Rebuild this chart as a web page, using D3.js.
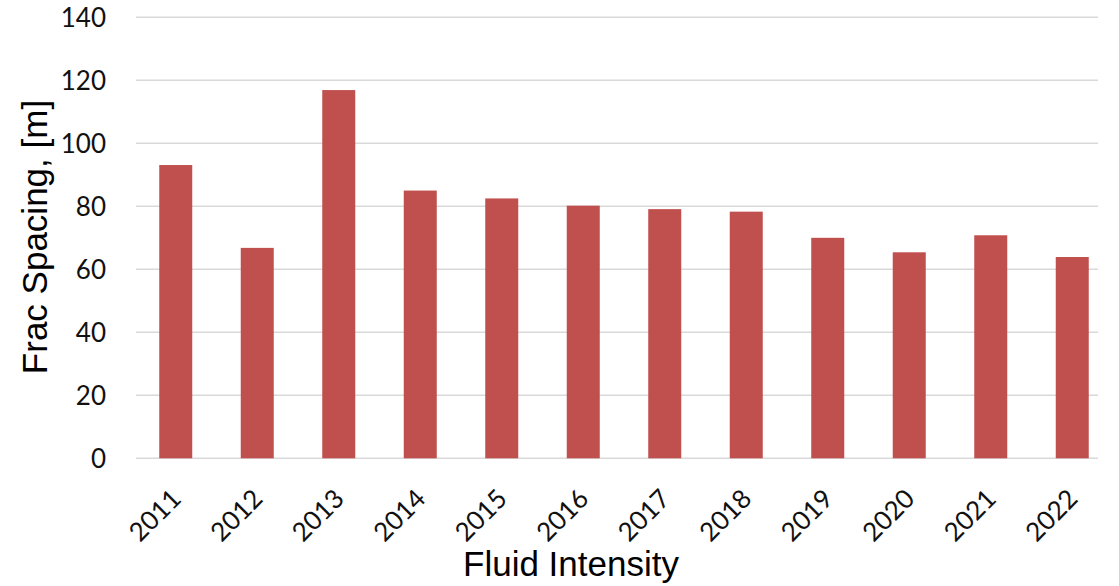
<!DOCTYPE html>
<html>
<head>
<meta charset="utf-8">
<script src="https://cdn.jsdelivr.net/npm/d3@7"></script>
<style>
  html, body { margin: 0; padding: 0; background: #ffffff; }
  svg { display: block; }
</style>
</head>
<body>
<svg id="chart" width="1119" height="586"></svg>
<script>
// Frac spacing by year
const years = ["2011", "2012", "2013", "2014", "2015", "2016", "2017", "2018", "2019", "2020", "2021", "2022"];
const fracSpacing = [93.1, 66.8, 116.9, 85.0, 82.5, 80.2, 79.1, 78.3, 70.0, 65.4, 70.8, 63.9];
const yTicks = [0, 20, 40, 60, 80, 100, 120, 140];

const svg = d3.select("#chart");

const plotLeft = 136, plotRight = 1098;
const x = d3.scaleBand()
  .domain(years)
  .range([135, 1113])
  .paddingInner(0.595)
  .paddingOuter(0.2975);

const y = d3.scaleLinear()
  .domain([0, 140])
  .range([458.3, 17.3]);

// horizontal gridlines
svg.append("g")
  .selectAll("line")
  .data(yTicks)
  .join("line")
  .attr("x1", plotLeft)
  .attr("x2", plotRight)
  .attr("y1", d => y(d))
  .attr("y2", d => y(d))
  .attr("stroke", "#d9d9d9")
  .attr("stroke-width", 1.5);

// y-axis tick labels
const yAxis = d3.axisLeft(y).tickValues(yTicks).tickSize(0).tickPadding(0);
svg.append("g")
  .attr("transform", "translate(106,0)")
  .call(yAxis)
  .call(g => g.select(".domain").remove())
  .selectAll("text")
  .attr("font-family", "Lato, 'Open Sans', sans-serif")
  .attr("font-size", 26)
  .attr("fill", "#111")
  .attr("dy", "0.35em");

// bars
svg.append("g")
  .selectAll("rect")
  .data(years.map((yr, i) => ({ yr, v: fracSpacing[i] })))
  .join("rect")
  .attr("x", d => x(d.yr))
  .attr("width", x.bandwidth())
  .attr("y", d => y(d.v))
  .attr("height", d => y(0) - y(d.v))
  .attr("fill", "#c0504d");

// x-axis tick labels, rotated
const xAxis = d3.axisBottom(x).tickSize(0).tickPadding(0);
svg.append("g")
  .attr("transform", "translate(0,458.3)")
  .call(xAxis)
  .call(g => g.select(".domain").remove())
  .selectAll("text")
  .attr("font-family", "Lato, 'Open Sans', sans-serif")
  .attr("font-size", 26)
  .attr("fill", "#111")
  .attr("text-anchor", "end")
  .attr("dy", 0)
  .attr("y", 0)
  .attr("transform", "translate(7,42) rotate(-45)");

// axis titles
svg.append("text")
  .attr("x", 571)
  .attr("y", 576)
  .attr("text-anchor", "middle")
  .attr("font-family", "'Liberation Sans', Arial, sans-serif")
  .attr("font-size", 35)
  .attr("fill", "#000")
  .text("Fluid Intensity");

svg.append("text")
  .attr("transform", "translate(47,237) rotate(-90)")
  .attr("text-anchor", "middle")
  .attr("font-family", "'Liberation Sans', Arial, sans-serif")
  .attr("font-size", 35)
  .attr("fill", "#000")
  .text("Frac Spacing, [m]");
</script>
</body>
</html>
